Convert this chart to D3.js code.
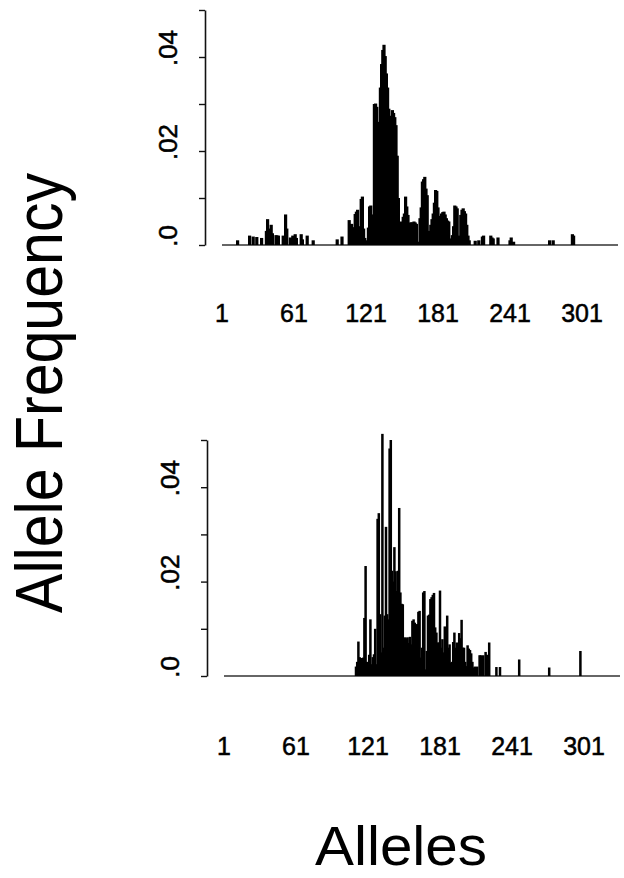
<!DOCTYPE html>
<html>
<head>
<meta charset="utf-8">
<script src="https://cdn.jsdelivr.net/npm/d3@7"></script>
<style>
  body { margin: 0; background: #fff; }
  svg { display: block; font-family: "Liberation Sans", Arial, Helvetica, sans-serif; }
</style>
</head>
<body>
<div id="chart"></div>
<script>
var width = 624; var height = 878;

// allele numbers and frequencies, upper panel
var topAlleles = [14,24,27,30,34,38,39,40,42,43,46,47,48,52,54,55,58,60,62,63,67,68,72,77,
  97,101,107,108,109,110,112,113,114,115,117,118,119,120,121,123,124,125,126,127,
  128,129,130,131,132,133,134,135,136,137,138,139,140,141,142,143,144,145,146,147,148,
  149,150,151,152,153,154,155,156,157,158,159,160,161,162,163,164,166,167,168,169,170,171,172,
  173,174,175,176,177,178,179,180,181,182,183,184,185,186,187,188,189,190,191,193,194,195,196,
  197,198,200,201,202,203,204,205,206,207,212,215,218,219,225,226,227,231,241,242,244,274,277,293,294];
var topFreq = [.0010,.0020,.0018,.0017,.0015,.0030,.0055,.0035,.0043,.0025,.0021,.0020,.0020,.0020,.0065,.0035,.0016,.0020,.0023,.0015,.0023,.0012,.0020,.0010,
  .0012,.0018,.0053,.0030,.0045,.0038,.0066,.0071,.0075,.0040,.0098,.0103,.0035,.0015,.0010,.0037,.0082,.0084,.0065,.0060,
  .0300,.0301,.0294,.0262,.0252,.0335,.0385,.0415,.0426,.0402,.0365,.0335,.0290,.0250,.0275,.0287,.0281,.0272,.0255,.0190,.0100,
  .0046,.0050,.0046,.0060,.0067,.0103,.0082,.0064,.0046,.0048,.0048,.0048,.0050,.0048,.0045,.0007,.0057,.0080,.0135,.0140,.0145,.0120,.0106,
  .0021,.0030,.0043,.0055,.0067,.0090,.0117,.0115,.0080,.0060,.0062,.0067,.0070,.0071,.0065,.0057,.0052,.0050,.0014,.0021,.0040,.0084,.0082,
  .0078,.0020,.0064,.0075,.0078,.0072,.0067,.0043,.0020,.0010,.0009,.0010,.0018,.0020,.0020,.0016,.0014,.0016,.0010,.0016,.0007,.0010,.0010,.0023,.0020];

// allele numbers and frequencies, lower panel
var bottomAlleles = [111,112,113,114,115,116,117,118,119,120,121,122,123,124,125,126,127,128,129,130,131,132,133,134,135,136,137,138,
  139,140,141,142,143,144,145,146,147,148,149,150,151,152,153,154,155,156,157,158,159,160,161,162,163,164,165,166,167,168,169,
  170,171,172,173,174,175,176,177,178,179,180,181,182,183,184,185,186,187,188,189,190,191,192,193,194,195,196,197,198,199,200,
  201,202,203,204,205,206,207,208,209,210,211,212,214,215,217,219,220,222,228,231,247,272,298];
var bottomFreq = [.0020,.0030,.0073,.0040,.0038,.0038,.0039,.0123,.0233,.0030,.0018,.0045,.0120,.0025,.0040,.0046,.0100,.0025,.0333,.0345,.0131,.0050,.0513,.0060,.0128,.0316,.0131,.0120,
  .0482,.0500,.0223,.0200,.0273,.0222,.0180,.0223,.0356,.0177,.0153,.0152,.0078,.0082,.0080,.0082,.0070,.0083,.0067,.0117,.0120,.0113,.0090,.0110,.0136,.0138,.0039,.0060,.0177,.0180,.0014,
  .0053,.0128,.0130,.0163,.0167,.0172,.0176,.0103,.0092,.0071,.0071,.0181,.0060,.0078,.0050,.0105,.0090,.0128,.0060,.0067,.0028,.0030,.0072,.0092,.0060,.0071,.0040,.0091,.0080,.0119,.0060,
  .0060,.0030,.0021,.0065,.0058,.0055,.0048,.0030,.0018,.0020,.0018,.0020,.0044,.0044,.0044,.0051,.0045,.0071,.0019,.0019,.0035,.0018,.0053];

var yTicks = [0, .01, .02, .03, .04, .05];
var yTickLabels = [".0", "", ".02", "", ".04", ""];
var xTicks = [1, 61, 121, 181, 241, 301];
var maxAllele = 331;

var svg = d3.select("#chart").append("svg")
    .attr("width", width)
    .attr("height", height);

function draw_panel(alleles, freq, opt) {
  var x = d3.scaleLinear().domain([1, 301]).range([opt.x0, opt.x0 + 360]);
  var y = d3.scaleLinear().domain([0, .05]).range([opt.yBase, opt.yTop]);

  var g = svg.append("g");

  // baseline under the bars
  g.append("line")
      .attr("x1", x(1)).attr("x2", x(maxAllele))
      .attr("y1", y(0)).attr("y2", y(0))
      .attr("stroke", "#333")
      .attr("stroke-width", 1.5);

  g.selectAll("rect.bar")
      .data(alleles)
      .enter()
      .append("rect")
      .attr("class", "bar")
      .attr("x", function (d) { return x(d) - opt.barW / 2; })
      .attr("y", function (d, i) { return y(freq[i]); })
      .attr("width", opt.barW)
      .attr("height", function (d, i) { return y(0) - y(freq[i]); })
      .attr("fill", "#000");

  // y axis, ticks only
  var axis = d3.axisLeft(y)
      .tickValues(yTicks)
      .tickSize(6)
      .tickSizeOuter(0)
      .tickFormat("");
  var ag = g.append("g")
      .attr("transform", "translate(" + opt.axisX + ",0)")
      .call(axis);
  ag.select(".domain").attr("stroke", "#111").attr("stroke-width", 1.6);
  ag.selectAll(".tick line").attr("stroke", "#111").attr("stroke-width", 1.4);

  g.selectAll("text.ylab")
      .data(yTicks)
      .enter()
      .append("text")
      .attr("class", "ylab")
      .attr("transform", function (d) {
        return "translate(" + (opt.axisX - 28) + "," + (y(d) - 9) + ") rotate(-90)";
      })
      .attr("text-anchor", "middle")
      .attr("font-size", 26)
      .attr("fill", "#000")
      .attr("stroke", "#000")
      .attr("stroke-width", 0.5)
      .text(function (d, i) { return yTickLabels[i]; });

  g.selectAll("text.xlab")
      .data(xTicks)
      .enter()
      .append("text")
      .attr("class", "xlab")
      .attr("x", function (d) { return x(d); })
      .attr("y", opt.labelY)
      .attr("text-anchor", "middle")
      .attr("font-size", 25)
      .attr("fill", "#000")
      .attr("stroke", "#000")
      .attr("stroke-width", 0.5)
      .text(function (d) { return d; });
}

draw_panel(topAlleles, topFreq, { x0: 222, yBase: 245, yTop: 10, axisX: 205, barW: 3.2, labelY: 322 });
draw_panel(bottomAlleles, bottomFreq, { x0: 224, yBase: 676, yTop: 440, axisX: 207, barW: 2.5, labelY: 755 });

svg.append("text")
    .attr("transform", "translate(62,393) rotate(-90)")
    .attr("text-anchor", "middle")
    .attr("font-size", 67)
    .attr("textLength", 440)
    .attr("lengthAdjust", "spacingAndGlyphs")
    .attr("fill", "#000")
    .text("Allele Frequency");

svg.append("text")
    .attr("x", 401)
    .attr("y", 865)
    .attr("text-anchor", "middle")
    .attr("font-size", 56)
    .attr("textLength", 172)
    .attr("lengthAdjust", "spacingAndGlyphs")
    .attr("fill", "#000")
    .text("Alleles");
</script>
</body>
</html>
